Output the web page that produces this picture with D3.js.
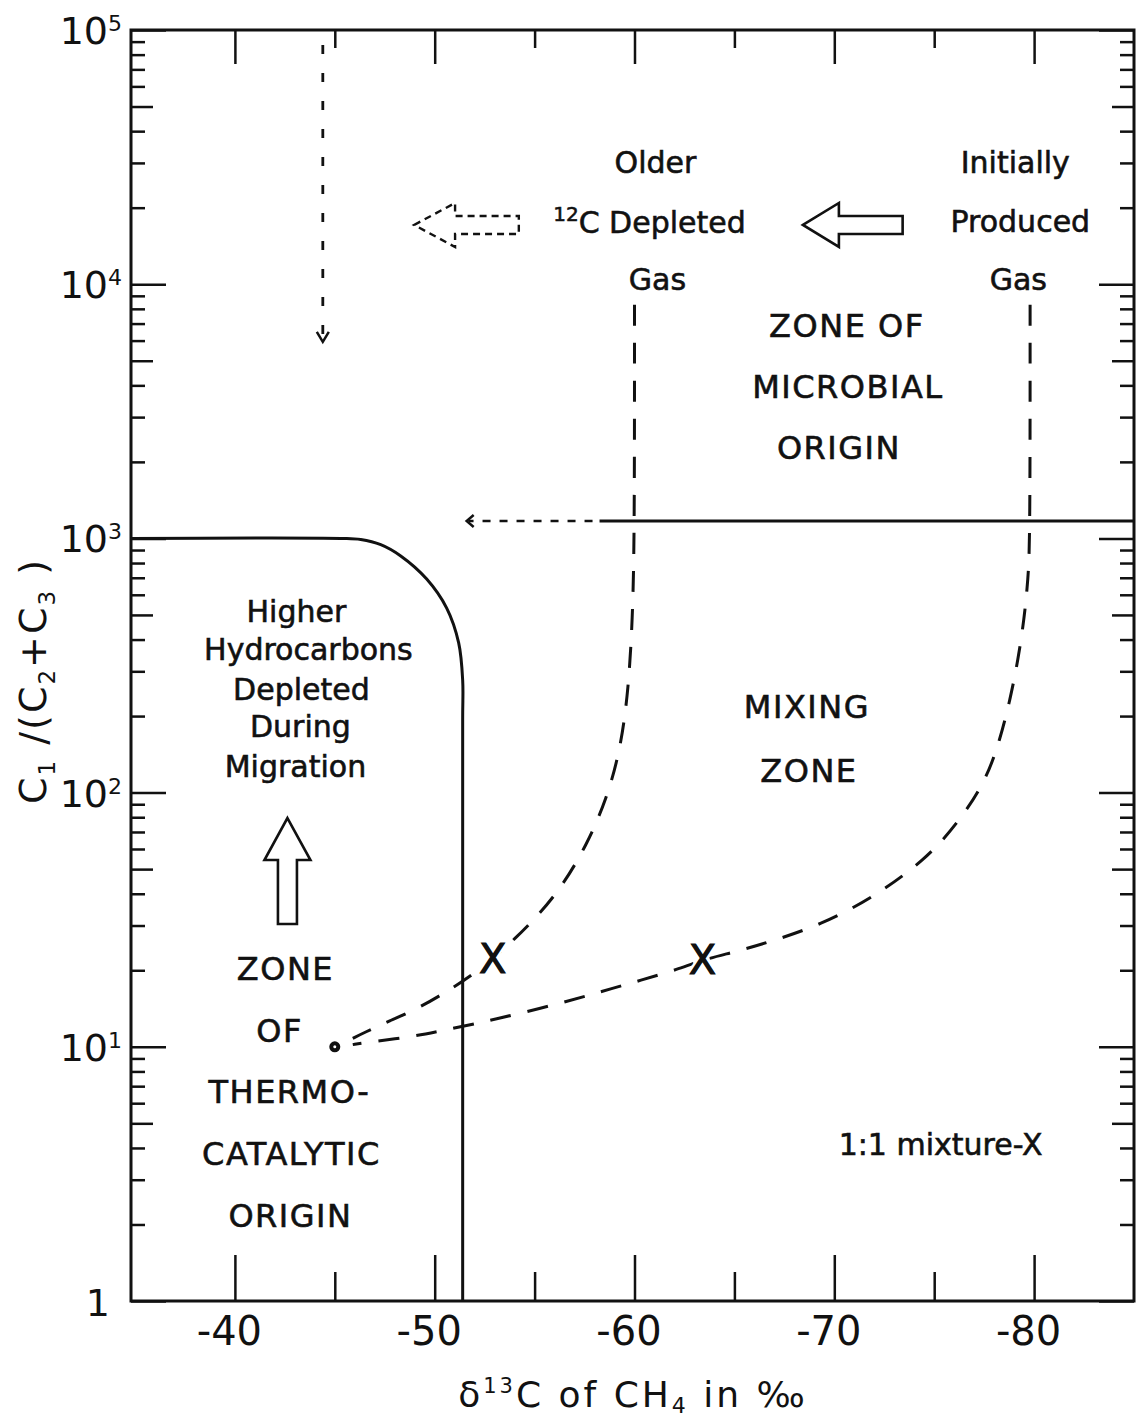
<!DOCTYPE html>
<html><head><meta charset="utf-8">
<script src="https://cdn.jsdelivr.net/npm/d3@7"></script>
<style>
html,body{margin:0;padding:0;background:#fff;}
svg{display:block;}
text{font-family:"DejaVu Sans",sans-serif;fill:#111;}
</style></head><body>
<svg id="chart" width="1137" height="1420"></svg>
<script>
// ---------- axes ----------
const xDomain = [-34.8, -85];
const yDomain = [1, 1e5];
const xMajor = [-40, -50, -60, -70, -80];
const xMajorLabels = ["-40", "-50", "-60", "-70", "-80"];
const xMinor = [-45, -55, -65, -75];
const yDecades = [1, 10, 100, 1000, 10000, 100000];
const yExponents = ["", "1", "2", "3", "4", "5"];

// ---------- data (δ13C, C1/(C2+C3)) ----------
const thermoBoundary = [
  [-34.8, 1000], [-45.3, 1000], [-46.3, 990], [-47.3, 945], [-48.3, 853],
  [-49.6, 692], [-50.6, 532], [-51.2, 388], [-51.4, 277], [-51.4, 193], [-51.4, 1]
];
const microbialLimitLevel = 1170;
const microbialLimitFrom = -58.25;
const microbialArrow = [-57.9, -51.6];   // dashed arrow extent (tail, tip)
const mixOlderGas = [
  [-60.0, 8300], [-60.0, 1000], [-59.9, 480], [-59.7, 255], [-59.3, 148],
  [-58.6, 94], [-57.6, 62], [-56.4, 43], [-55.2, 33], [-54.0, 26.5],
  [-52.9, 22.2], [-51.7, 18.7], [-50.5, 16.3], [-49.2, 14.2], [-47.7, 12.6],
  [-46.5, 11.4], [-45.9, 10.8]
];
const mixInitialGas = [
  [-79.8, 8300], [-79.8, 1000], [-79.7, 690], [-79.5, 480], [-79.2, 334],
  [-78.8, 232], [-78.3, 162], [-77.6, 112], [-76.3, 78], [-74.6, 54.5],
  [-71.8, 38], [-69.3, 30.2], [-67.0, 26.2], [-65.2, 23.8], [-63.4, 22.0],
  [-62.2, 20.2], [-60.35, 18.3], [-58.35, 16.5], [-56.4, 14.9], [-54.2, 13.5],
  [-52.2, 12.4], [-50.2, 11.5], [-48.7, 10.9], [-46.5, 10.4], [-45.9, 10.2]
];
const mixturePoints = [[-52.9, 22.2], [-63.4, 22.0]];
const thermoSource = [[-45, 10]];
const migrationArrow = { d: -44.4, from: 87300, to: 5930 };
const dashedLeftArrow = { tip: -48.97, base: -51.02, tail: -54.21, v: 17100 };
const solidLeftArrow = { tip: -68.43, base: -70.23, tail: -73.42, v: 17100 };
const upArrow = { d: -42.63, tip: 79.4, base: 54.3, tail: 30.4 };

// ---------- labels ----------
const mixedLabels = [
  ["Older", -61.05, 27400], ["Gas", -61.15, 9490],
  ["Initially", -79.06, 27400], ["Produced", -79.31, 16050], ["Gas", -79.21, 9490],
  ["Higher", -43.08, 469], ["Hydrocarbons", -43.68, 332], ["Depleted", -43.33, 231],
  ["During", -43.28, 165.5], ["Migration", -43.03, 115],
  ["1:1 mixture-X", -75.32, 3.75]
];
const upperLabels = [
  ["ZONE OF", -70.63, 6200], ["MICROBIAL", -70.68, 3570], ["ORIGIN", -70.23, 2052],
  ["MIXING", -68.63, 196.5], ["ZONE", -68.73, 110],
  ["ZONE", -42.53, 18.3], ["OF", -42.24, 10.4], ["THERMO-", -42.73, 6.01],
  ["CATALYTIC", -42.83, 3.43], ["ORIGIN", -42.78, 1.955]
];
const isotopeLabel = { sup: "12", text: "C Depleted", d: -60.75, v: 15900 };

// ---------- drawing ----------
const ink = "#111";
const svg = d3.select("#chart");
const x = d3.scaleLinear().domain(xDomain).range([131, 1134]);
const y = d3.scaleLog().domain(yDomain).range([1301, 30]);

function styleAxis(g) {
  g.select(".domain").remove();
  g.selectAll(".tick line").attr("stroke", ink).attr("stroke-width", 2.5);
}
const yMinor = y.ticks().filter(v => Math.abs(Math.log10(v) - Math.round(Math.log10(v))) > 1e-6);
const isFive = v => Math.round(v / Math.pow(10, Math.floor(Math.log10(v) + 1e-9))) === 5;
const yMinor5 = yMinor.filter(isFive), yMinorOther = yMinor.filter(v => !isFive(v));

// bottom
svg.append("g").attr("transform", `translate(0,${y(1)})`)
  .call(d3.axisBottom(x).tickValues(xMajor).tickSize(-46).tickPadding(16).tickFormat((d, i) => xMajorLabels[i]))
  .call(styleAxis)
  .call(g => g.selectAll("text").attr("dx", -6).style("font-size", "40px")
    .style("font-family", "DejaVu Sans").attr("fill", ink));
svg.append("g").attr("transform", `translate(0,${y(1)})`)
  .call(d3.axisBottom(x).tickValues(xMinor).tickSize(-29).tickFormat("")).call(styleAxis);
// top
svg.append("g").attr("transform", `translate(0,${y(1e5)})`)
  .call(d3.axisTop(x).tickValues(xMajor).tickSize(-34).tickFormat("")).call(styleAxis);
svg.append("g").attr("transform", `translate(0,${y(1e5)})`)
  .call(d3.axisTop(x).tickValues(xMinor).tickSize(-18).tickFormat("")).call(styleAxis);
// left / right
[[d3.axisLeft, x(xDomain[0])], [d3.axisRight, x(xDomain[1])]].forEach(([ax, px]) => {
  svg.append("g").attr("transform", `translate(${px},0)`)
    .call(ax(y).tickValues(yDecades).tickSize(-35).tickFormat("")).call(styleAxis);
  svg.append("g").attr("transform", `translate(${px},0)`)
    .call(ax(y).tickValues(yMinor5).tickSize(-22).tickFormat("")).call(styleAxis);
  svg.append("g").attr("transform", `translate(${px},0)`)
    .call(ax(y).tickValues(yMinorOther).tickSize(-14).tickFormat("")).call(styleAxis);
});

// frame
svg.append("rect")
  .attr("x", x(xDomain[0])).attr("y", y(yDomain[1]))
  .attr("width", x(xDomain[1]) - x(xDomain[0])).attr("height", y(yDomain[0]) - y(yDomain[1]))
  .attr("fill", "none").attr("stroke", ink).attr("stroke-width", 3);

// y tick labels
yDecades.forEach((d, i) => {
  const t = svg.append("text").attr("text-anchor", "end").style("font-size", "38px");
  if (yExponents[i]) {
    t.attr("x", 122).attr("y", y(d) + 14);
    t.append("tspan").text("10");
    t.append("tspan").attr("dy", -13).style("font-size", "22px").text(yExponents[i]);
  } else {
    t.attr("x", 110).attr("y", y(d) + 15).text("1");
  }
});

// axis titles
const xt = svg.append("text").attr("x", 633).attr("y", 1407).attr("text-anchor", "middle")
  .style("font-size", "36px").style("letter-spacing", "3px");
xt.append("tspan").text("δ");
xt.append("tspan").attr("dy", -14).style("font-size", "21px").text("13");
xt.append("tspan").attr("dy", 14).text("C of CH");
xt.append("tspan").attr("dy", 6).style("font-size", "22px").text("4");
xt.append("tspan").attr("dy", -6).text(" in ‰");

const yt = svg.append("text").attr("transform", "translate(46,681) rotate(-90)")
  .attr("text-anchor", "middle").style("font-size", "38px").style("letter-spacing", "2px");
yt.append("tspan").text("C");
yt.append("tspan").attr("dy", 9).style("font-size", "23px").text("1");
yt.append("tspan").attr("dy", -9).text(" /(C");
yt.append("tspan").attr("dy", 9).style("font-size", "23px").text("2");
yt.append("tspan").attr("dy", -9).text("+C");
yt.append("tspan").attr("dy", 9).style("font-size", "23px").text("3");
yt.append("tspan").attr("dy", -9).text(" )");

// lines
const boundaryLine = d3.line().x(d => x(d[0])).y(d => y(d[1])).curve(d3.curveCatmullRom.alpha(0.5));
const mixLine = d3.line().x(d => x(d[0])).y(d => y(d[1])).curve(d3.curveBasis);
svg.append("path").attr("d", boundaryLine(thermoBoundary)).attr("fill", "none")
  .attr("stroke", ink).attr("stroke-width", 3);
[mixOlderGas, mixInitialGas].forEach(s => {
  svg.append("path").attr("d", mixLine(s)).attr("fill", "none")
    .attr("stroke", ink).attr("stroke-width", 3).attr("stroke-dasharray", "21,17");
});

// microbial limit line with dashed arrow
const yl = y(microbialLimitLevel);
svg.append("line").attr("x1", x(microbialLimitFrom)).attr("x2", x(xDomain[1]))
  .attr("y1", yl).attr("y2", yl).attr("stroke", ink).attr("stroke-width", 3);
svg.append("line").attr("x1", x(microbialArrow[0])).attr("x2", x(microbialArrow[1]) + 2)
  .attr("y1", yl).attr("y2", yl).attr("stroke", ink).attr("stroke-width", 2.5)
  .attr("stroke-dasharray", "8,9");
{
  const tx = x(microbialArrow[1]);
  svg.append("path").attr("d", `M${tx + 7},${yl - 6}L${tx},${yl}L${tx + 7},${yl + 6}`)
    .attr("fill", "none").attr("stroke", ink).attr("stroke-width", 2.5);
}

// migration dashed arrow (vertical)
{
  const mx = x(migrationArrow.d), y0 = y(migrationArrow.from), y1 = y(migrationArrow.to);
  svg.append("line").attr("x1", mx).attr("x2", mx).attr("y1", y0).attr("y2", y1 - 2)
    .attr("stroke", ink).attr("stroke-width", 2.8).attr("stroke-dasharray", "9,19");
  svg.append("path").attr("d", `M${mx - 6},${y1 - 10}L${mx},${y1}L${mx + 6},${y1 - 10}`)
    .attr("fill", "none").attr("stroke", ink).attr("stroke-width", 2.5);
}

// block arrows
function leftArrowPath(a) {
  const t = x(a.tip), b = x(a.base), e = x(a.tail), c = y(a.v);
  return `M${t},${c}L${b},${c - 22}L${b},${c - 9}L${e},${c - 9}L${e},${c + 9}L${b},${c + 9}L${b},${c + 22}Z`;
}
svg.append("path").attr("d", leftArrowPath(dashedLeftArrow)).attr("fill", "none")
  .attr("stroke", ink).attr("stroke-width", 2.4).attr("stroke-dasharray", "7,5");
svg.append("path").attr("d", leftArrowPath(solidLeftArrow)).attr("fill", "none")
  .attr("stroke", ink).attr("stroke-width", 2.6);
{
  const c = x(upArrow.d), t = y(upArrow.tip), b = y(upArrow.base), e = y(upArrow.tail);
  svg.append("path")
    .attr("d", `M${c},${t}L${c + 23},${b}L${c + 9.5},${b}L${c + 9.5},${e}L${c - 9.5},${e}L${c - 9.5},${b}L${c - 23},${b}Z`)
    .attr("fill", "none").attr("stroke", ink).attr("stroke-width", 2.6);
}

// mixture markers and source point
svg.selectAll(".mix").data(mixturePoints).join("text").attr("class", "mix")
  .attr("x", d => x(d[0])).attr("y", d => y(d[1]) + 14).attr("text-anchor", "middle")
  .style("font-size", "40px").attr("stroke", "#fff").attr("stroke-width", 6)
  .attr("paint-order", "stroke").text("X");
svg.selectAll(".mix2").data(mixturePoints).join("text").attr("class", "mix2")
  .attr("x", d => x(d[0])).attr("y", d => y(d[1]) + 14).attr("text-anchor", "middle")
  .style("font-size", "40px").attr("stroke", ink).attr("stroke-width", 1).text("X");
svg.selectAll(".src").data(thermoSource).join("circle").attr("class", "src")
  .attr("cx", d => x(d[0])).attr("cy", d => y(d[1])).attr("r", 5.5).attr("fill", ink);
svg.selectAll(".srcdot").data(thermoSource).join("circle").attr("class", "srcdot")
  .attr("cx", d => x(d[0])).attr("cy", d => y(d[1])).attr("r", 1.5).attr("fill", "#fff");

// annotation text
mixedLabels.forEach(([t, d, v]) => {
  svg.append("text").attr("x", x(d)).attr("y", y(v)).attr("text-anchor", "middle")
    .style("font-size", "30px").attr("stroke", ink).attr("stroke-width", 0.6).text(t);
});
upperLabels.forEach(([t, d, v]) => {
  svg.append("text").attr("x", x(d)).attr("y", y(v)).attr("text-anchor", "middle")
    .style("font-size", "32px").style("letter-spacing", "1.5px")
    .attr("stroke", ink).attr("stroke-width", 0.6).text(t);
});
{
  const t = svg.append("text").attr("x", x(isotopeLabel.d)).attr("y", y(isotopeLabel.v))
    .attr("text-anchor", "middle").style("font-size", "30px")
    .attr("stroke", ink).attr("stroke-width", 0.6);
  t.append("tspan").attr("dy", -12).style("font-size", "20px").text(isotopeLabel.sup);
  t.append("tspan").attr("dy", 12).text(isotopeLabel.text);
}
</script>
</body></html>
